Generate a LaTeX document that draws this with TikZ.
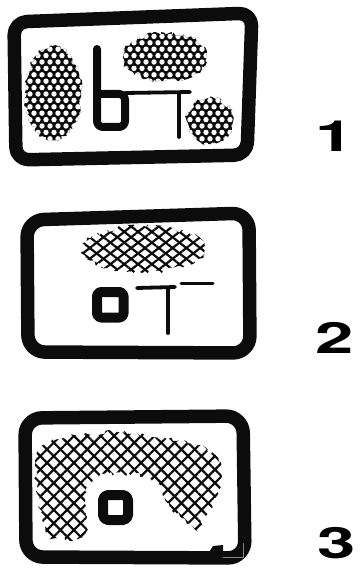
\documentclass[tikz,border=0pt]{standalone}
\usepackage{fontspec}
\newfontfamily\digitfont{TeX Gyre Heros}
\usetikzlibrary{patterns.meta,decorations.pathmorphing}
\definecolor{InkBlack}{RGB}{12,12,12}
\definecolor{InkGrey}{RGB}{130,130,130}

\begin{document}
\begin{tikzpicture}[x=1pt,y=-1pt,
    frame/.style={draw=InkBlack,line width=13.5pt,line join=round},
    glyph/.style={draw=InkBlack,line width=#1,line cap=round,line join=round},
    ragged/.style={decorate,decoration={random steps,segment length=2.5pt,amplitude=2.3pt}},
    mesh/.style 2 args={pattern color=InkBlack,
      pattern={Lines[angle=#1,distance=#2,line width=2.2pt]},
      postaction={pattern color=InkBlack,pattern={Lines[angle=-#1,distance=#2,line width=2.2pt]}}},
    digit/.style={font=\digitfont\bfseries\fontsize{43}{43}\selectfont,anchor=base,inner sep=0pt}]
  \pgfmathsetseed{11}
  \useasboundingbox (0,0) rectangle (359,577);

  % Panel 1: three dotted blobs round the sign
  \begin{scope}
    \clip[ragged] (53,93) ellipse [x radius=28,y radius=47]
                  (165,57) ellipse [x radius=42,y radius=24]
                  (210,121) circle [radius=23];
    \fill[InkBlack] (20,28) rectangle (245,152);
    \foreach \j in {0,...,19}{
      \foreach \i in {0,...,28}{
        \pgfmathsetmacro{\hx}{22+8*\i+4*mod(\j,2)}
        \fill[white] (\hx,30+6.4*\j) circle [radius=2.7];
      }
    }
  \end{scope}
  \draw[glyph=8pt] (97,49) -- (97,120) [rounded corners=6pt] -- (97,127) -- (125,127) -- (125,94) -- (98,94);
  \draw[glyph=3.8pt] (125,93) -- (190,92);
  \draw[glyph=3.8pt] (179,93) -- (179,137);
  \draw[frame,rounded corners=13pt] (14,22) -- (252,13) -- (247,155) -- (16,160) -- cycle;

  % Panel 2: one flat blob above the sign
  \begin{scope}
    \clip[ragged] (144,249) ellipse [x radius=61,y radius=23];
    \fill[mesh={38}{8.5pt}] (80,222) rectangle (210,276);
  \end{scope}
  \draw[glyph=10pt,line cap=butt,rounded corners=4pt] (97,292) rectangle (123.5,317.5);
  \draw[glyph=3.8pt] (137,288) -- (175,287);
  \draw[glyph=3.8pt] (168,288) -- (168,333);
  \draw[glyph=3pt] (181,283) -- (213,283);
  \draw[frame,rounded corners=17pt] (27,220) -- (249,213) -- (250,353) -- (28,352) -- cycle;

  % Panel 3: arch over the sign
  \begin{scope}
    \clip[ragged] plot[smooth cycle,tension=0.5] coordinates {
      (50,537) (42,520) (38,495) (37,450) (67,437) (117,432) (160,437)
      (200,445) (219,462) (219,490) (206,516) (196,530)
      (182,518) (165,500) (157,484) (140,475) (105,474) (91,483)
      (86,497) (83,537)};
    \fill[mesh={45}{9.5pt}] (30,425) rectangle (230,545);
  \end{scope}
  \draw[glyph=10pt,line cap=butt,rounded corners=5pt] (103,495) rectangle (128,520);
  \draw[frame,rounded corners=17pt] (25,418) -- (243,416) -- (245,558) -- (26,557) -- cycle;
  \fill[InkBlack] (206,557) -- (213,546) -- (223,545) -- (223,557) -- cycle;
  \draw[InkGrey,line width=1pt] (223,557) -- (243,557) -- (243,543);

  % Panel numbers
  \node[digit] (lbl1) at (335,152) {\scalebox{1.6}[1]{1}};
  \node[digit] (lbl2) at (334.5,353) {\scalebox{1.6}[1]{2}};
  \node[digit] (lbl3) at (336.5,558) {\scalebox{1.6}[1]{3}};
\end{tikzpicture}
\end{document}
